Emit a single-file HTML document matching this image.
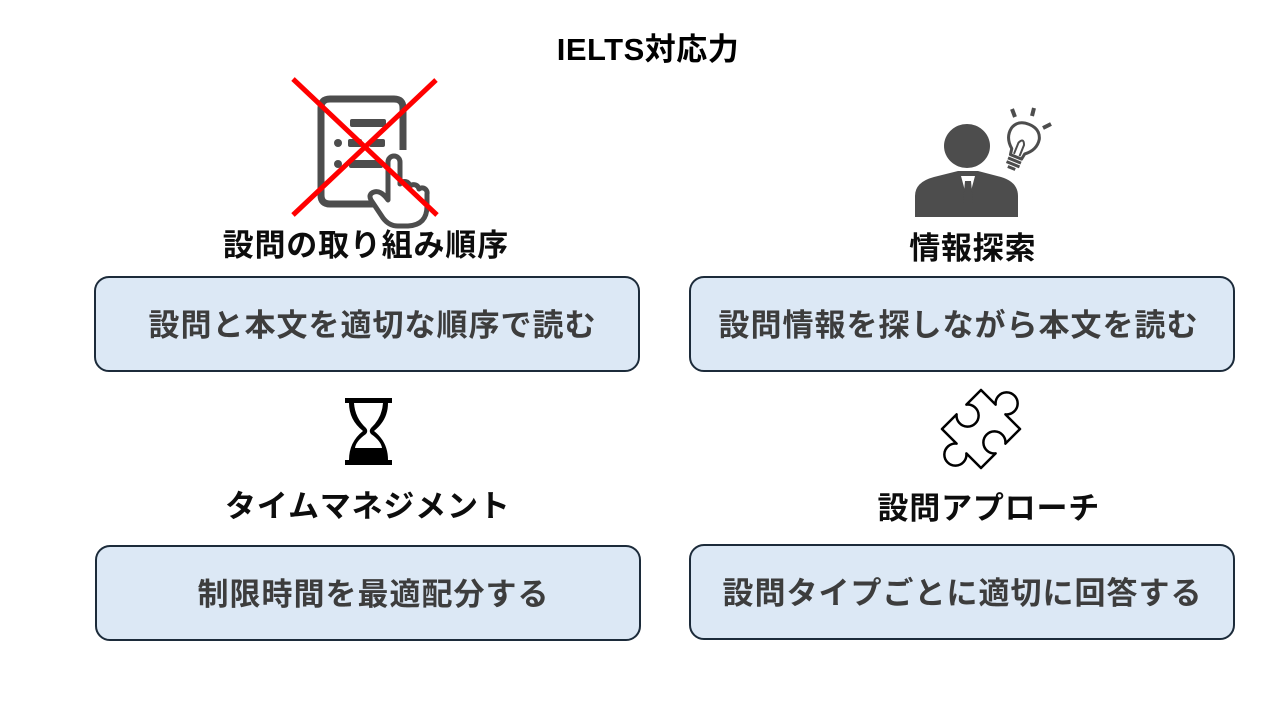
<!DOCTYPE html>
<html>
<head>
<meta charset="utf-8">
<style>
  html,body{margin:0;padding:0;background:#fff;}
  body{width:1280px;height:720px;position:relative;overflow:hidden;
    font-family:"Liberation Sans","Noto Sans CJK JP",sans-serif;}
  .t{position:absolute;text-align:center;font-weight:bold;white-space:nowrap;}
  .title{left:448px;width:400px;top:30px;height:40px;line-height:40px;font-size:31px;letter-spacing:0.5px;color:#000;}
  .h{font-size:31px;letter-spacing:0.8px;padding-left:0.8px;color:#0d0d0d;height:40px;line-height:40px;width:500px;}
  .box{position:absolute;width:542px;height:92px;border:2px solid #1c2b3a;border-radius:15px;background:#dce8f5;
    box-sizing:content-box;}
  .bt{position:absolute;left:0;right:0;top:0;height:92px;line-height:96px;text-align:center;font-weight:bold;
    font-size:31px;letter-spacing:1px;padding-left:1px;color:#3d3d3d;white-space:nowrap;}
  svg{position:absolute;left:0;top:0;}
</style>
</head>
<body>
<svg width="1280" height="720" viewBox="0 0 1280 720">
  <!-- Icon 1: tablet with hand, crossed -->
  <g fill="none" stroke="#4d4d4d" stroke-width="7">
    <path d="M378,204 L330,204 Q321,204 321,195 L321,108 Q321,99 330,99 L394,99 Q403,99 403,108 L403,150"/>
  </g>
  <g fill="#4d4d4d">
    <rect x="350" y="119" width="36" height="8" rx="2"/>
    <circle cx="338" cy="143" r="4"/>
    <rect x="348" y="139" width="14" height="8" rx="2"/>
    <rect x="369" y="139" width="16" height="8" rx="2"/>
    <circle cx="338" cy="164" r="4"/>
    <rect x="349" y="160" width="34" height="8" rx="2"/>
  </g>
  <path d="M388,200 L388,162 A6,6 0 0 1 400,162 L400,184 A5.5,5.5 0 0 1 410,186 A5.5,5.5 0 0 1 419,189 A5,5 0 0 1 427,194 L427,206 Q427,225 408,226 L398,226 Q389,226 383,218 L371,200 Q368,194 374,192 Q381,190 388,200 Z"
        fill="#fff" stroke="#4d4d4d" stroke-width="5" stroke-linejoin="round"/>
  <g stroke="#ff0000" stroke-width="5" stroke-linecap="butt">
    <line x1="293" y1="79" x2="437" y2="215"/>
    <line x1="436" y1="80" x2="293" y2="215"/>
  </g>

  <!-- Icon 2: person with bulb -->
  <ellipse cx="967" cy="146" rx="23" ry="22" fill="#4d4d4d"/>
  <path d="M915,217 L915,196 Q915,182 934,177 L958,171 L978,171 L1001,177 Q1018,182 1018,196 L1018,217 Z" fill="#4d4d4d"/>
  <path d="M961,176 L975,176 L968,202 Z" fill="#fff"/>
  <path d="M965,181 L971,181 L973,203 L968,211 L963,203 Z" fill="#4d4d4d"/>
  <g transform="rotate(22 1022 142)" fill="none" stroke="#4d4d4d" stroke-width="3" stroke-linejoin="round">
    <path d="M1015,152 Q1005,144 1007,133 Q1010,123 1022,123 Q1034,123 1037,133 Q1039,144 1029,152 L1028,158 L1016,158 Z" fill="#fff"/>
    <path d="M1019,156 L1019,144 Q1022,137 1025,144 L1025,156" stroke-width="2"/>
    <line x1="1015" y1="162" x2="1029" y2="162"/>
    <line x1="1015" y1="166" x2="1029" y2="166"/>
    <line x1="1018" y1="170" x2="1026" y2="170"/>
  </g>
  <g stroke="#4d4d4d" stroke-width="4">
    <line x1="1012" y1="109" x2="1015" y2="117"/>
    <line x1="1034" y1="108" x2="1032" y2="116"/>
    <line x1="1043" y1="128" x2="1051" y2="124"/>
  </g>

  <!-- Icon 3: hourglass -->
  <g fill="#000">
    <rect x="345" y="398" width="47" height="5"/>
    <rect x="345" y="460" width="47" height="5"/>
    <path d="M349,403 L388,403 Q388,420 374,431 Q388,442 388,460 L349,460 Q349,442 363,431 Q349,420 349,403 Z"/>
  </g>
  <path d="M354,403 L383,403 Q382,418 371,428 Q368.5,431 371,434 Q381,441 382,448 L355,448 Q356,441 366,434 Q368.5,431 366,428 Q355,418 354,403 Z" fill="#fff"/>

  <!-- Icon 4: puzzle piece -->
  <g transform="translate(981 429) rotate(45) scale(1.38)">
    <path d="M-20,-20 L-5,-20 A8,8 0 1 1 5,-20 L20,-20 L20,-5 A8,8 0 1 0 20,5 L20,20 L5,20 A8,8 0 1 1 -5,20 L-20,20 L-20,5 A8,8 0 1 0 -20,-5 Z"
          fill="#fff" stroke="#000" stroke-width="1.8" stroke-linejoin="round"/>
  </g>
</svg>

<div class="t title">IELTS対応力</div>

<div class="t h" style="left:115px;top:226px;">設問の取り組み順序</div>
<div class="t h" style="left:722px;top:229px;">情報探索</div>
<div class="t h" style="left:117px;top:487px;">タイムマネジメント</div>
<div class="t h" style="left:738px;top:489px;">設問アプローチ</div>

<div class="box" style="left:94px;top:276px;"><div class="bt" style="left:10px;">設問と本文を適切な順序で読む</div></div>
<div class="box" style="left:689px;top:276px;"><div class="bt" style="right:8px;">設問情報を探しながら本文を読む</div></div>
<div class="box" style="left:95px;top:545px;"><div class="bt" style="left:10px;">制限時間を最適配分する</div></div>
<div class="box" style="left:689px;top:544px;"><div class="bt">設問タイプごとに適切に回答する</div></div>
</body>
</html>
